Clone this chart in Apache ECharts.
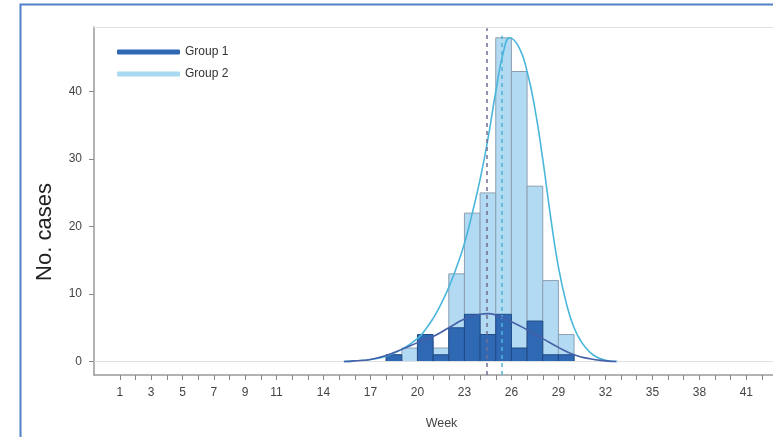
<!DOCTYPE html>
<html>
<head>
<meta charset="utf-8">
<script src="https://cdn.jsdelivr.net/npm/echarts@6/dist/echarts.min.js"></script>
<style>
  html, body { margin: 0; padding: 0; background: #fff; }
  #chart { width: 773px; height: 437px; }
</style>
</head>
<body>
<div id="chart"></div>
<script>
// Weekly case counts, one-week bins starting at each week
const binWeeks = [18, 19, 20, 21, 22, 23, 24, 25, 26, 27, 28, 29];
const group1Cases = [1, 0, 4, 1, 5, 7, 4, 7, 2, 6, 1, 1];
const group2Cases = [1, 2, 3, 2, 13, 22, 25, 48, 43, 26, 12, 4];

// Fitted curves (week, cases)
const fit1Weeks = [15.3, 16, 17, 18, 19, 20, 21, 22, 23, 24, 24.5, 25, 26, 27, 28, 29, 30, 31, 32, 32.7];
const fit1Values = [0, 0.1, 0.3, 0.9, 1.8, 2.8, 3.7, 5, 6.3, 7.0, 7.1, 6.9, 5.9, 4.7, 3.4, 2.1, 1.0, 0.4, 0.1, 0];
const fit2Weeks = [15.3, 16, 17, 18, 19, 20, 20.5, 21, 21.5, 22, 22.5, 23, 23.5, 24, 24.5, 25, 25.5, 25.9, 26.5, 27, 27.5, 28, 28.5, 29, 29.5, 30, 30.5, 31, 31.5, 32, 32.8];
const fit2Values = [0, 0.1, 0.3, 0.8, 1.8, 3.4, 4.7, 6.4, 8.5, 11, 14, 17.5, 22, 27, 33, 40, 46, 48, 46.5, 43, 37.5, 30, 21.5, 14, 8.7, 5, 2.8, 1.4, 0.6, 0.2, 0];

// Group means (week)
const meanGroup1 = 24.4;
const meanGroup2 = 25.4;

// Axis ticks and labels
const weekTicks = [];
for (let w = 1; w <= 42; w++) weekTicks.push(w);
const weekLabels = [1, 3, 5, 7, 9, 11, 14, 17, 20, 23, 26, 29, 32, 35, 38, 41];
const caseTicks = [0, 10, 20, 30, 40];

const dark = '#3069b3';
const darkEdge = '#1f4a86';
const light = '#b2dbf3';
const lightEdge = '#8d9fb2';
const darkLine = '#4460a8';
const lightLine = '#4ab6dc';

function histRender(params, api) {
  const w = api.value(0);
  const v = api.value(1);
  if (!v) return null;
  const p0 = api.coord([w, 0]);
  const p1 = api.coord([w + 1, v]);
  return {
    type: 'rect',
    shape: { x: p0[0], y: p1[1], width: p1[0] - p0[0], height: p0[1] - p1[1] },
    style: api.style()
  };
}

const font = 'Liberation Sans, Arial, sans-serif';
const chart = echarts.init(document.getElementById('chart'), null, { renderer: 'canvas' });

chart.setOption({
  animation: false,
  backgroundColor: '#ffffff',
  textStyle: { fontFamily: font },
  graphic: [{
    type: 'rect',
    left: 18, top: 2,
    shape: { width: 770, height: 450 },
    style: { fill: 'none', stroke: '#4f80c6', lineWidth: 2 },
    silent: true
  }],
  legend: {
    orient: 'vertical',
    left: 112, top: 41,
    itemWidth: 63, itemHeight: 5, itemGap: 10,
    textStyle: { fontSize: 12, color: '#333', fontFamily: font },
    data: [
      { name: 'Group 1', icon: 'roundRect', itemStyle: { color: dark, borderWidth: 0 } },
      { name: 'Group 2', icon: 'roundRect', itemStyle: { color: '#a9d8f1', borderWidth: 0 } }
    ]
  },
  grid: { left: 94, right: 0, top: 27, bottom: 62 },
  xAxis: [{
    type: 'value',
    min: -0.65, max: 42.7,
    name: 'Week',
    nameLocation: 'middle',
    nameGap: 42,
    nameTextStyle: { fontSize: 12.5, color: '#444', fontFamily: font, padding: [0, 0, 0, 16] },
    axisLine: { show: true, onZero: false, lineStyle: { color: '#9a9a9a', width: 1.5 } },
    axisTick: { show: true, customValues: weekTicks, length: 5, lineStyle: { color: '#888' } },
    axisLabel: { customValues: weekLabels, margin: 12, fontSize: 12, color: '#444', fontFamily: font },
    splitLine: { show: false }
  }, {
    type: 'value',
    position: 'top',
    min: -0.65, max: 42.7,
    axisLine: { show: true, onZero: false, lineStyle: { color: '#e2e2e2', width: 1 } },
    axisTick: { show: false },
    axisLabel: { show: false },
    splitLine: { show: false }
  }],
  yAxis: {
    type: 'value',
    min: -2, max: 49.6,
    name: 'No. cases',
    nameLocation: 'middle',
    nameGap: 38,
    nameTextStyle: { fontSize: 22, color: '#222', fontFamily: font, padding: [0, 62, 0, 0] },
    axisLine: { show: true, onZero: false, lineStyle: { color: '#9a9a9a', width: 1.5 } },
    axisTick: { show: true, customValues: caseTicks, length: 5, lineStyle: { color: '#888' } },
    axisLabel: { customValues: caseTicks, margin: 12, fontSize: 12, color: '#444', fontFamily: font },
    splitLine: { show: false }
  },
  series: [
    {
      name: 'Group 2',
      type: 'custom',
      renderItem: histRender,
      itemStyle: { color: light, borderColor: lightEdge, borderWidth: 1 },
      data: binWeeks.map((w, i) => [w, group2Cases[i]]),
      markLine: {
        silent: true, symbol: 'none', label: { show: false },
        lineStyle: { color: '#e0e0e0', type: 'solid', width: 1 },
        data: [{ yAxis: 0 }]
      },
      z: 2
    },
    {
      name: 'Group 1',
      type: 'custom',
      renderItem: histRender,
      itemStyle: { color: dark, borderColor: darkEdge, borderWidth: 1 },
      data: binWeeks.map((w, i) => [w, group1Cases[i]]),
      z: 3
    },
    {
      name: 'Fit 2',
      type: 'line',
      smooth: 0.5,
      showSymbol: false,
      lineStyle: { color: lightLine, width: 1.6 },
      data: fit2Weeks.map((w, i) => [w, fit2Values[i]]),
      markLine: {
        silent: true, symbol: 'none', label: { show: false },
        lineStyle: { color: '#4fb2d8', type: [4, 4], width: 1.5 },
        data: [[{ coord: [meanGroup2, -2] }, { coord: [meanGroup2, 48.3] }]]
      },
      z: 4
    },
    {
      name: 'Fit 1',
      type: 'line',
      smooth: 0.5,
      showSymbol: false,
      lineStyle: { color: darkLine, width: 1.6 },
      data: fit1Weeks.map((w, i) => [w, fit1Values[i]]),
      markLine: {
        silent: true, symbol: 'none', label: { show: false },
        lineStyle: { color: '#6f6f8e', type: [4, 4], width: 1.5 },
        data: [[{ coord: [meanGroup1, -2] }, { coord: [meanGroup1, 49.4] }]]
      },
      z: 5
    }
  ]
});
</script>
</body>
</html>
